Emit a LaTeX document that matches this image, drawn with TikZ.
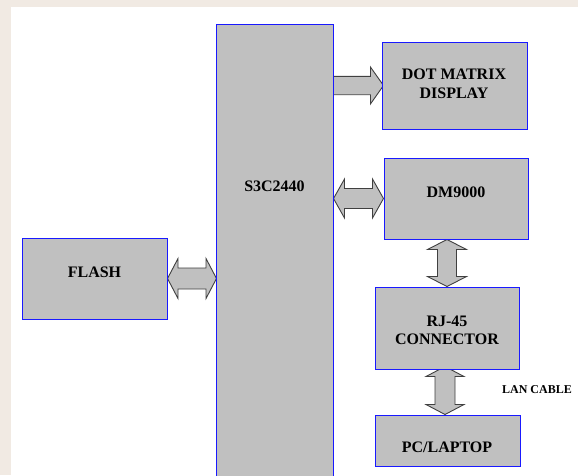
\documentclass[tikz,border=0pt]{standalone}
\usepackage{fontspec}
\setmainfont{Liberation Serif}
\usetikzlibrary{calc}
\definecolor{boxgray}{RGB}{192,192,192}
\definecolor{boxblue}{RGB}{25,25,255}
\definecolor{arrowline}{RGB}{64,64,64}
\definecolor{paper}{RGB}{241,234,227}
\pgfdeclarelayer{back}
\pgfdeclarelayer{arrows}
\pgfsetlayers{back,arrows,main}
\begin{document}
\begin{tikzpicture}[x=1pt,y=-1pt,
  box/.style={draw=boxblue,fill=boxgray,line width=1pt,inner sep=0pt},
  lbl/.style={font=\bfseries\fontsize{16}{18.5}\selectfont,align=center,inner sep=0pt,text=black},
  small/.style={font=\bfseries\fontsize{12}{14}\selectfont,inner sep=0pt,text=black},
  arr/.style={draw=arrowline,fill=boxgray,line width=0.9pt,line join=miter}]
\useasboundingbox (0,0) rectangle (578,475);
\begin{pgfonlayer}{back}
  \fill[paper] (0,0) rectangle (578,475);
  \fill[white] (11,7) rectangle (578,475);
\end{pgfonlayer}

% boxes
\node[box,minimum width=117pt,minimum height=460pt] (s3c) at (274.5,254) {};
\node[box,minimum width=145pt,minimum height=87pt] (dot) at (454.5,85.5) {};
\node[box,minimum width=144pt,minimum height=81pt] (dm) at (456,198.5) {};
\node[box,minimum width=144pt,minimum height=82pt] (rj) at (447,328) {};
\node[box,minimum width=145pt,minimum height=51pt] (pc) at (447.5,440.5) {};
\node[box,minimum width=145pt,minimum height=81pt] (flash) at (94.5,278.5) {};

% labels
\node[lbl] (s3ct) at (274.5,186) {S3C2440};
\node[lbl] (dott) at (454,84) {DOT MATRIX\\DISPLAY};
\node[lbl] (dmt) at (456,192) {DM9000};
\node[lbl] (rjt) at (447,330.5) {RJ-45\\CONNECTOR};
\node[lbl] (pct) at (447,447) {PC/LAPTOP};
\node[lbl] (flasht) at (94.5,272) {FLASH};
\node[small] (lan) at (537,390) {LAN CABLE};

% arrows
\begin{pgfonlayer}{arrows}
  % S3C2440 -> DOT MATRIX DISPLAY
  \draw[arr] (s3c.east |- dot.west) -- ++(0,-9.2) -- ++(37,0) -- ++(0,-9.2)
     -- ++(13,18.4) -- ++(-13,18.4) -- ++(0,-9.2) -- ++(-37,0) -- cycle;
  % S3C2440 <-> DM9000
  \draw[arr] (s3c.east |- dm.west) -- ++(11,-19.5) -- ++(0,9.5) -- ++(28,0) -- ++(0,-9.5)
     -- ++(11,19.5) -- ++(-11,19.5) -- ++(0,-9.5) -- ++(-28,0) -- ++(0,9.5) -- cycle;
  % FLASH <-> S3C2440
  \draw[arr] (flash.east) -- ++(10.5,-20) -- ++(0,9.5) -- ++(28,0) -- ++(0,-9.5)
     -- ++(10.5,20) -- ++(-10.5,20) -- ++(0,-9.5) -- ++(-28,0) -- ++(0,9.5) -- cycle;
  % DM9000 <-> RJ-45
  \draw[arr] (rj.north) -- ++(-19.5,-10) -- ++(10,0) -- ++(0,-27) -- ++(-10,0)
     -- ++(19.5,-10) -- ++(19.5,10) -- ++(-10,0) -- ++(0,27) -- ++(10,0) -- cycle;
  % RJ-45 <-> PC/LAPTOP
  \draw[arr] ($(pc.north)+(-2.5,0)$) -- ++(-19,-10) -- ++(9,0) -- ++(0,-28) -- ++(-9,0)
     -- ++(19,-10) -- ++(19,10) -- ++(-9,0) -- ++(0,28) -- ++(9,0) -- cycle;
\end{pgfonlayer}
\end{tikzpicture}
\end{document}
